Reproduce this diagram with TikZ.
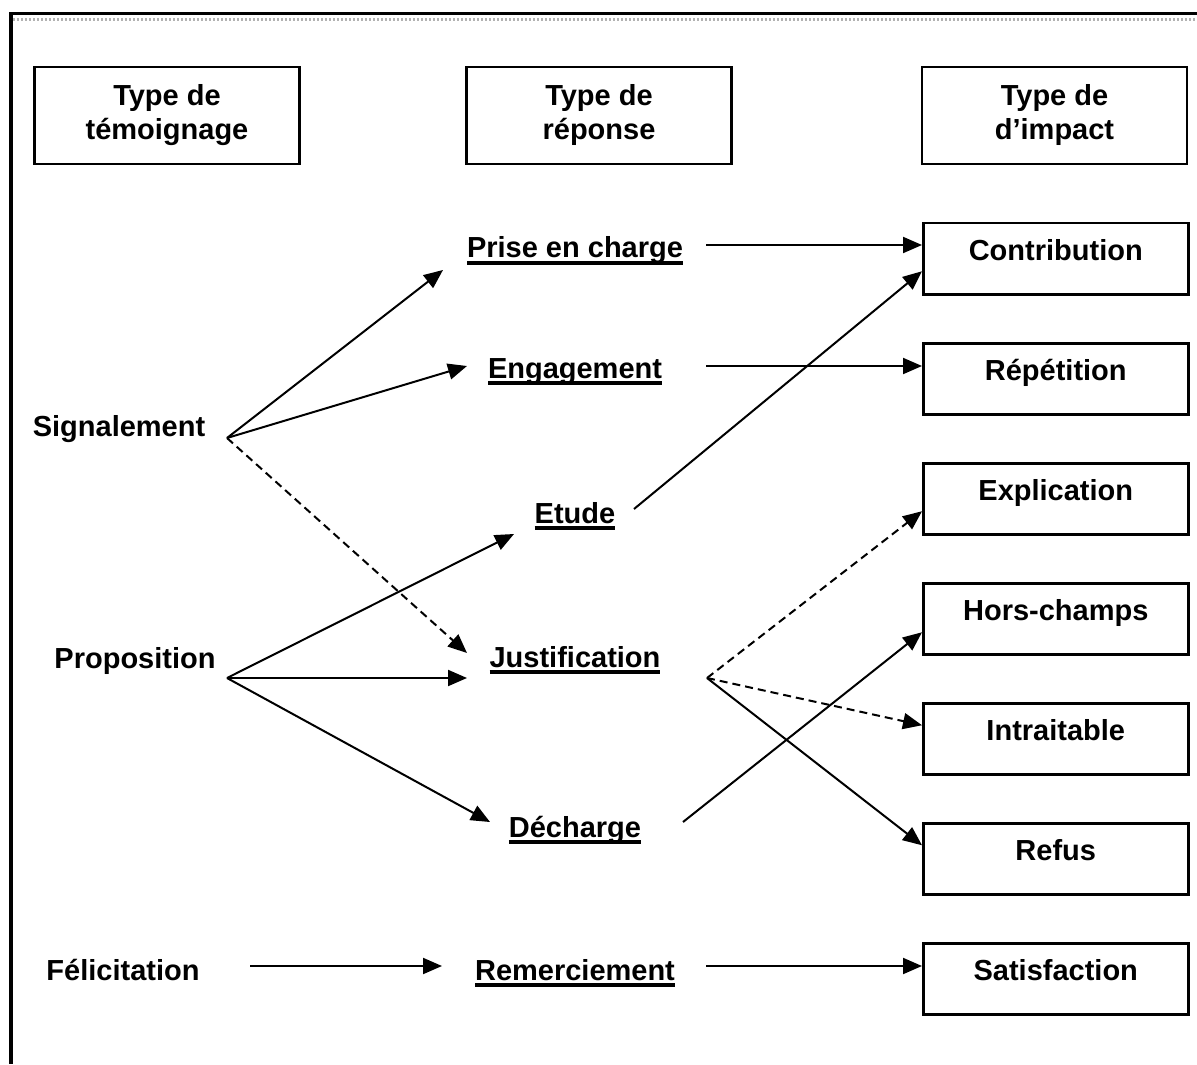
\documentclass[tikz,border=0pt]{standalone}
\usepackage{fontspec}
\setmainfont{Liberation Sans}
\usetikzlibrary{arrows.meta,calc}

\newcommand{\souligne}[1]{\setbox0\hbox{#1}\rlap{\rule[-1.4mm]{\wd0}{0.8mm}}\box0}

\begin{document}
\begin{tikzpicture}[x=0.2mm,y=-0.2mm,>={Triangle[length=3.8mm,width=3.2mm]},
       line width=0.4mm,font=\bfseries\fontsize{16.5}{19.35}\selectfont,
       head node/.style={rectangle,draw,line width=0.5mm,align=center,
         minimum width=53mm,minimum height=19.4mm,inner sep=0pt},
       impact node/.style={rectangle,draw,line width=0.5mm,anchor=north west,
         minimum width=53mm,minimum height=14.2mm,inner sep=0pt,
         text height=4.2mm,text depth=3.6mm},
       plain node/.style={anchor=base,inner sep=0pt},
       dash line/.style={dash pattern=on 1.6mm off 1mm}]

      \useasboundingbox (0,0) rectangle (1197,1064);

      % cadre
      \draw[line width=0.6mm] (9,14) -- (1197,14);
      \draw[line width=0.8mm] (11,12.5) -- (11,1064);
      \draw[gray!60,line width=0.6mm,dash pattern=on 0.4mm off 0.4mm] (13,19.5) -- (1197,19.5);

      \node[head node] at (167,115.5) (1) {Type de\\témoignage};
      \node[head node] at (599,115.5) (2) {Type de\\réponse};
      \node[head node] at (1054.5,115.5) (3) {Type de\\d’impact};

      \node[plain node] at (119,436) (4) {Signalement};
      \node[plain node] at (135,668) (5) {Proposition};
      \node[plain node] at (123,980) (6) {Félicitation};

      \node[plain node] at (575,258) (7) {\souligne{Prise en charge}};
      \node[plain node] at (575,378) (8) {\souligne{Engagement}};
      \node[plain node] at (575,523) (9) {\souligne{Etude}};
      \node[plain node] at (575,667) (10) {\souligne{Justification}};
      \node[plain node] at (575,837) (11) {\souligne{Décharge}};
      \node[plain node] at (575,980) (12) {\souligne{Remerciement}};

      \node[impact node] at (922,222) (13) {Contribution};
      \node[impact node] at (922,342) (14) {Répétition};
      \node[impact node] at (922,462) (15) {Explication};
      \node[impact node] at (922,582) (16) {Hors-champs};
      \node[impact node] at (922,702) (17) {Intraitable};
      \node[impact node] at (922,822) (18) {Refus};
      \node[impact node] at (922,942) (19) {Satisfaction};

      \coordinate (4o) at (227,438);
      \coordinate (5o) at (227,678);
      \coordinate (6o) at (250,966);
      \coordinate (7i) at (443,270);
      \coordinate (7o) at (706,245);
      \coordinate (8i) at (467,366);
      \coordinate (8o) at (706,366);
      \coordinate (9i) at (514,534);
      \coordinate (9o) at (634,509);
      \coordinate (10d) at (467,653);
      \coordinate (10i) at (467,678);
      \coordinate (10o) at (707,678);
      \coordinate (11i) at (490,822);
      \coordinate (11o) at (683,822);
      \coordinate (12i) at (442,966);
      \coordinate (12o) at (706,966);

      \path[->]
      (4o) edge (7i)
      (4o) edge (8i)
      (4o) edge [dash line] (10d)
      (5o) edge (9i)
      (5o) edge (10i)
      (5o) edge (11i)
      (6o) edge (12i)
      ;
      \path[->]
      (7o) edge (7o -| 13.west)
      (9o) edge ($(13.west)+(0,12.5)$)
      (8o) edge (8o -| 14.west)
      (10o) edge [dash line] ($(15.west)+(0,12.5)$)
      (11o) edge ($(16.west)+(0,13.5)$)
      (10o) edge [dash line] ($(17.west)+(0,-13.5)$)
      (10o) edge ($(18.west)+(0,-13.5)$)
      (12o) edge (12o -| 19.west)
      ;

    \end{tikzpicture}
\end{document}
